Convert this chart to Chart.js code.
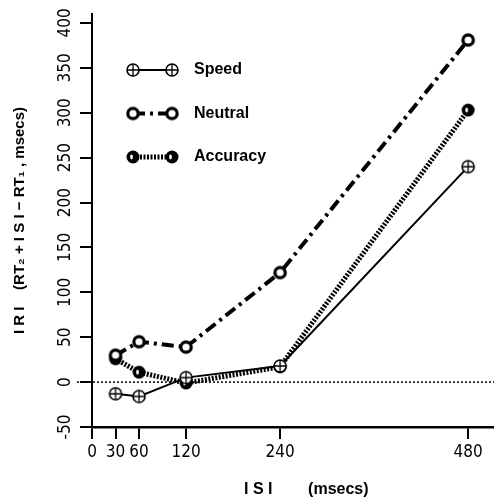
<!DOCTYPE html>
<html><head><meta charset="utf-8">
<script src="https://cdn.jsdelivr.net/npm/chart.js@4"></script>
<style>html,body{margin:0;padding:0;background:#fff}</style>
</head><body>
<canvas id="c" width="494" height="500"></canvas>
<script>
// ---- data ----
const isi = [30, 60, 120, 240, 480];
const speed = [-13, -16, 5, 18, 240];
const neutral = [30, 45, 39, 122, 381];
const accuracy = [26, 11, -1, 17, 303];
const seriesNames = ['Speed', 'Neutral', 'Accuracy'];
const xTicks = [0, 30, 60, 120, 240, 480];
const yTicks = [-50, 0, 50, 100, 150, 200, 250, 300, 350, 400];
const xTitle = '      I S I        (msecs)';
const yTitle = 'I R I    (RT\u2082 + I S I \u2212 RT\u2081 , msecs)';

const tickFont = {family: '"DejaVu Sans Condensed", "Liberation Sans", sans-serif', size: 17};
const labFont = {family: '"Liberation Sans", Arial, sans-serif', size: 16, weight: 'bold'};

function mk(draw) {
  const c = document.createElement('canvas');
  c.width = 18; c.height = 18;
  const g = c.getContext('2d');
  g.translate(9, 9);
  draw(g);
  return c;
}
const speedMarker = mk(g => {
  g.beginPath(); g.arc(0, 0, 6, 0, Math.PI * 2);
  g.fillStyle = '#fff'; g.fill();
  g.lineWidth = 1.6; g.strokeStyle = '#000'; g.stroke();
  g.beginPath(); g.moveTo(-6, 0); g.lineTo(6, 0); g.moveTo(0, -6); g.lineTo(0, 6);
  g.lineWidth = 1.3; g.stroke();
});
const neutralMarker = mk(g => {
  g.beginPath(); g.arc(0, 0, 5.2, 0, Math.PI * 2);
  g.fillStyle = '#fff'; g.fill();
  g.lineWidth = 3.2; g.strokeStyle = '#000'; g.stroke();
});
const accuracyMarker = mk(g => {
  g.beginPath(); g.arc(0, 0, 6.5, 0, Math.PI * 2);
  g.fillStyle = '#000'; g.fill();
  g.beginPath(); g.ellipse(-1.5, 0, 1.4, 2.4, 0, 0, Math.PI * 2);
  g.fillStyle = '#fff'; g.fill();
});

const styles = [
  {borderWidth: 2, borderDash: [], marker: speedMarker},
  {borderWidth: 4, borderDash: [12, 5, 3, 5], marker: neutralMarker},
  {borderWidth: 5, borderDash: [2, 1.5], marker: accuracyMarker}
];
const values = [speed, neutral, accuracy];

const datasets = seriesNames.map((name, i) => ({
  label: name,
  data: isi.map((x, j) => ({x: x, y: values[i][j]})),
  borderColor: '#000',
  backgroundColor: '#000',
  borderWidth: styles[i].borderWidth,
  borderDash: styles[i].borderDash,
  pointStyle: styles[i].marker,
  pointRadius: 6,
  tension: 0,
  fill: false,
  clip: false
}));

const zeroLine = {
  id: 'zeroLine',
  beforeDatasetsDraw(chart) {
    const {ctx, chartArea, scales} = chart;
    const y = scales.y.getPixelForValue(0);
    ctx.save();
    ctx.strokeStyle = '#000';
    ctx.lineWidth = 1.5;
    ctx.setLineDash([2, 2]);
    ctx.beginPath();
    ctx.moveTo(chartArea.left - 15, y);
    ctx.lineTo(chartArea.right, y);
    ctx.stroke();
    ctx.restore();
  }
};

const customLegend = {
  id: 'customLegend',
  afterDatasetsDraw(chart) {
    const {ctx, chartArea} = chart;
    ctx.save();
    chart.data.datasets.forEach((ds, i) => {
      const y = chartArea.top + 56 + i * 43.5;
      const x1 = chartArea.left + 41, x2 = chartArea.left + 80;
      ctx.strokeStyle = '#000';
      ctx.lineWidth = ds.borderWidth;
      ctx.setLineDash(ds.borderDash);
      ctx.beginPath(); ctx.moveTo(x1, y); ctx.lineTo(x2, y); ctx.stroke();
      ctx.setLineDash([]);
      const m = ds.pointStyle;
      ctx.drawImage(m, x1 - m.width / 2, y - m.height / 2);
      ctx.drawImage(m, x2 - m.width / 2, y - m.height / 2);
      ctx.fillStyle = '#000';
      ctx.font = 'bold 16px "Liberation Sans", Arial, sans-serif';
      ctx.textBaseline = 'middle';
      ctx.textAlign = 'left';
      ctx.fillText(ds.label, chartArea.left + 102, y);
    });
    ctx.restore();
  }
};

new Chart(document.getElementById('c'), {
  type: 'line',
  data: {datasets},
  options: {
    responsive: false,
    animation: false,
    devicePixelRatio: 1,
    layout: {autoPadding: false, padding: {left: 0, top: 14, right: 0, bottom: 0}},
    plugins: {legend: {display: false}, tooltip: {enabled: false}},
    scales: {
      x: {
        type: 'linear', min: 0, max: 513,
        afterBuildTicks: s => { s.ticks = xTicks.map(v => ({value: v})); },
        afterFit: s => { s.height = 73; s.paddingLeft = 0; s.paddingRight = 0; },
        ticks: {font: tickFont, color: '#000', padding: 3, maxRotation: 0, autoSkip: false},
        grid: {drawOnChartArea: false, drawTicks: true, tickLength: 12, color: '#000', lineWidth: 2},
        border: {display: true, color: '#000', width: 2.5},
        title: {display: true, text: xTitle, font: labFont, color: '#000', padding: {top: 0, bottom: 1}}
      },
      y: {
        type: 'linear', min: -50, max: 410,
        afterBuildTicks: s => { s.ticks = yTicks.map(v => ({value: v})); },
        afterFit: s => { s.width = 92; },
        ticks: {font: tickFont, color: '#000', padding: 0, minRotation: 90, maxRotation: 90, crossAlign: 'center', autoSkip: false},
        grid: {drawOnChartArea: false, drawTicks: true, tickLength: 12, color: '#000', lineWidth: 2},
        border: {display: true, color: '#000', width: 2},
        title: {display: true, text: yTitle, font: {family: labFont.family, size: 15, weight: 'bold'}, color: '#000', padding: {top: 11, bottom: 0}}
      }
    }
  },
  plugins: [zeroLine, customLegend]
});
</script>
</body></html>
